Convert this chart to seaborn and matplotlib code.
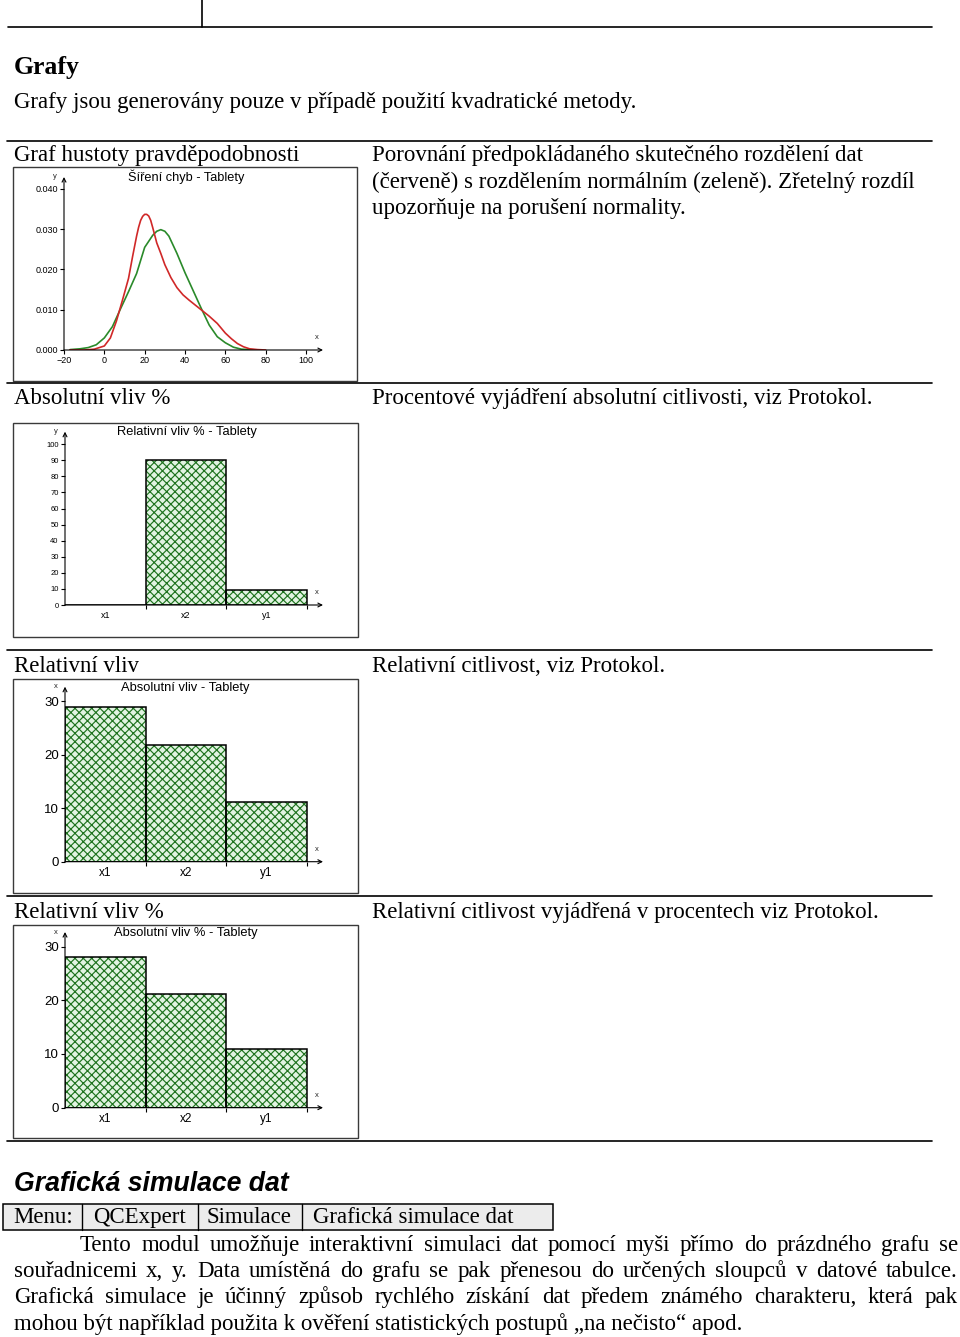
import numpy as np
import pandas as pd
import matplotlib
matplotlib.use("Agg")
import matplotlib.pyplot as plt
import seaborn as sns
from matplotlib.transforms import Affine2D
from matplotlib.lines import Line2D
from matplotlib.patches import Rectangle
from matplotlib.ticker import FixedLocator, FixedFormatter, NullFormatter, FormatStrFormatter

W, H = 960, 1337

# ---------------- data ----------------
red_x = [-17, -10, -5, 0, 3, 6, 9, 12, 14, 16, 17, 18, 19, 20, 21, 22, 23, 24, 26, 28, 30, 33, 36, 39, 42, 45, 48, 52, 56, 60, 63, 66, 69, 72, 76, 80]
red_y = [0.0000, 0.0000, 0.0002, 0.0010, 0.0030, 0.0072, 0.0124, 0.0178, 0.0232, 0.0283, 0.0305, 0.0322, 0.0332, 0.0337, 0.0337, 0.0333, 0.0322, 0.0304, 0.0266, 0.0240, 0.0212, 0.0180, 0.0155, 0.0137, 0.0124, 0.0112, 0.0100, 0.0084, 0.0066, 0.0042, 0.0028, 0.0016, 0.0008, 0.0003, 0.0001, 0.0000]
green_x = [-17, -12, -8, -4, 0, 4, 8, 12, 16, 20, 24, 26, 28, 30, 32, 36, 40, 44, 48, 52, 56, 60, 64, 68, 72, 76]
green_y = [0.0001, 0.0003, 0.0006, 0.0013, 0.0030, 0.0058, 0.0102, 0.0145, 0.0190, 0.0255, 0.0285, 0.0295, 0.0299, 0.0295, 0.0283, 0.0240, 0.0192, 0.0148, 0.0104, 0.0062, 0.0033, 0.0018, 0.0007, 0.0002, 0.0001, 0.0000]
dens_xticks = [-20, 0, 20, 40, 60, 80, 100]
dens_yticks = [0.000, 0.010, 0.020, 0.030, 0.040]

bar_cats = ["x1", "x2", "y1"]
rel_pct_vals = [0.0, 90.0, 9.5]
abs_vals = [28.9, 21.8, 11.1]
abs_pct_vals = [28.1, 21.2, 11.0]
rel_pct_yticks = [0, 10, 20, 30, 40, 50, 60, 70, 80, 90, 100]
abs_yticks = [0, 10, 20, 30]

chart_titles = ["Šíření chyb - Tablety", "Relativní vliv % - Tablety",
                "Absolutní vliv - Tablety", "Absolutní vliv % - Tablety"]

row_left = ["Graf hustoty pravděpodobnosti", "Absolutní vliv %", "Relativní vliv", "Relativní vliv %"]
row_right = [["Porovnání předpokládaného skutečného rozdělení dat",
              "(červeně) s rozdělením normálním (zeleně). Zřetelný rozdíl",
              "upozorňuje na porušení normality."],
             ["Procentové vyjádření absolutní citlivosti, viz Protokol."],
             ["Relativní citlivost, viz Protokol."],
             ["Relativní citlivost vyjádřená v procentech viz Protokol."]]

menu_items = ["Menu:", "QCExpert", "Simulace", "Grafická simulace dat"]
para_lines = ["Tento modul umožňuje interaktivní simulaci dat pomocí myši přímo do prázdného grafu se",
              "souřadnicemi x, y. Data umístěná do grafu se pak přenesou do určených sloupců v datové tabulce.",
              "Grafická simulace je účinný způsob rychlého získání dat předem známého charakteru, která pak",
              "mohou být například použita k ověření statistických postupů „na nečisto“ apod."]

# ---------------- setup ----------------
sns.set_theme(style="white")
SERIF = ["Liberation Serif", "DejaVu Serif"]
SANS = ["Liberation Sans", "DejaVu Sans"]
plt.rcParams["font.family"] = SANS
plt.rcParams["hatch.linewidth"] = 0.85
BODY = 16.5

fig = plt.figure(figsize=(W / 100, H / 100), dpi=100)
fig.patch.set_facecolor("white")
PX = Affine2D().scale(1 / W, -1 / H).translate(0, 1) + fig.transFigure
renderer = fig.canvas.get_renderer()


def hline(x0, x1, y, lw=1.1, color="black"):
    fig.add_artist(Line2D([x0, x1], [y, y], transform=PX, color=color, lw=lw))


def vline(x, y0, y1, lw=1.1, color="black"):
    fig.add_artist(Line2D([x, x], [y0, y1], transform=PX, color=color, lw=lw))


def txt(x, y, s, size=BODY, family=SERIF, va="baseline", **kw):
    return fig.text(x, y, s, transform=PX, fontsize=size, family=family, va=va, color="black", **kw)


def justify(line, x0, x1, y, size=BODY):
    words = line.split(" ")
    ts = [txt(0, y, w, size) for w in words]
    widths = [t.get_window_extent(renderer).width for t in ts]
    gap = (x1 - x0 - sum(widths)) / (len(words) - 1)
    x = x0
    for t, w in zip(ts, widths):
        t.set_x(x)
        x += w + gap


def ax_px(l, t, r, b):
    a = fig.add_axes([l / W, 1 - b / H, (r - l) / W, (b - t) / H])
    a.set_facecolor("none")
    return a


def frame(l, t, r, b):
    fig.add_artist(Rectangle((l, t), r - l, b - t, transform=PX, fill=False,
                             edgecolor="#3a3a3a", lw=1.0))


def style_axes(ax, xlim, ylim, ylab, labelsize):
    ax.set_xlim(*xlim)
    ax.set_ylim(*ylim)
    for s in ax.spines.values():
        s.set_visible(False)
    ax.grid(False)
    ax.set_xlabel("")
    ax.set_ylabel("")
    ap = dict(arrowstyle="->", lw=0.8, color="black", shrinkA=0, shrinkB=0, mutation_scale=7)
    ax.annotate("", xy=(1, 0), xytext=(0, 0), xycoords="axes fraction",
                textcoords="axes fraction", arrowprops=ap, annotation_clip=False)
    ax.annotate("", xy=(0, 1), xytext=(0, 0), xycoords="axes fraction",
                textcoords="axes fraction", arrowprops=ap, annotation_clip=False)
    ax.tick_params(which="both", bottom=True, left=True, direction="out", length=3,
                   width=0.8, color="black", pad=1.5, labelsize=labelsize, labelcolor="black")
    ax.text(-0.035, 1.0, ylab, transform=ax.transAxes, fontsize=5.5, ha="center", va="center")
    ax.text(0.975, 0.05, "x", transform=ax.transAxes, fontsize=5.5, ha="center", va="bottom")


# ---------------- page lines & texts ----------------
hline(8, 932, 27, lw=1.2)
vline(202, 0, 27, lw=1.2)
txt(14, 74, "Grafy", size=18.5, weight="bold")
txt(14, 108, "Grafy jsou generovány pouze v případě použití kvadratické metody.")

sep_y = [141, 383, 650, 896, 1141]
for y in sep_y:
    hline(7, 932, y, lw=1.2)

row_y = [161, 404, 672, 918]
for y, left, right in zip(row_y, row_left, row_right):
    txt(14, y, left)
    for i, line in enumerate(right):
        txt(372, y + i * 26.7, line)

# ---------------- chart frames ----------------
frame(13, 167, 357, 381)
frame(13, 423, 358, 637)
frame(13, 679, 358, 893)
frame(13, 925, 358, 1138)

# ---------------- density chart ----------------
ax = ax_px(64, 177, 323, 350)
sns.lineplot(x=green_x, y=green_y, ax=ax, color="#2a8a2a", lw=1.2)
sns.lineplot(x=red_x, y=red_y, ax=ax, color="#d02828", lw=1.2)
style_axes(ax, (-20, -20 + 259 / (242 / 120)), (0, 173 / 4025), "y", 6.5)
ax.set_xticks(dens_xticks)
ax.set_yticks(dens_yticks)
ax.yaxis.set_major_formatter(FormatStrFormatter("%.3f"))
txt(186, 177, chart_titles[0], size=9.2, family=SANS, va="center", ha="center")


# ---------------- bar charts ----------------
def bar_chart(rect, vals, yticks, ytop, ylab, ysize, xsize, title, tpos):
    a = ax_px(*rect)
    sns.barplot(x=bar_cats, y=vals, ax=a, width=1.0, color="#e2f4e2", saturation=1,
                edgecolor="#1f731f", linewidth=0, hatch="xxxx", errorbar=None)
    sns.barplot(x=bar_cats, y=vals, ax=a, width=1.0, fill=False, color="black",
                linewidth=1.1, errorbar=None)
    style_axes(a, (-0.5, 2.70), (0, ytop), ylab, ysize)
    a.xaxis.set_major_locator(FixedLocator([0.5, 1.5, 2.5]))
    a.xaxis.set_major_formatter(NullFormatter())
    a.xaxis.set_minor_locator(FixedLocator([0, 1, 2]))
    a.xaxis.set_minor_formatter(FixedFormatter(bar_cats))
    a.tick_params(axis="x", which="minor", length=0, labelsize=xsize, pad=4)
    a.set_yticks(yticks)
    a.set_yticklabels([str(v) for v in yticks])
    txt(tpos[0], tpos[1], title, size=9.3, family=SANS, va="center", ha="center")
    return a


bar_chart((65, 431.7, 323, 605), rel_pct_vals, rel_pct_yticks, 107.8, "y", 5.5, 6.5,
          chart_titles[1], (187, 432))
bar_chart((65, 686.7, 323, 861.7), abs_vals, abs_yticks, 32.7, "x", 9.5, 8.5,
          chart_titles[2], (185, 688))
bar_chart((65, 932, 323, 1107.7), abs_pct_vals, abs_yticks, 32.7, "x", 9.5, 8.5,
          chart_titles[3], (186, 933))

# ---------------- bottom section ----------------
txt(14, 1191, "Grafická simulace dat", size=19.2, family=SANS, weight="bold", style="italic")
fig.add_artist(Rectangle((3, 1204), 550, 26, transform=PX, facecolor="#ececec",
                         edgecolor="black", lw=1.1))
cell_x = [13, 93, 207, 313]
for x in [82, 198, 302]:
    vline(x, 1204, 1230, lw=1.0)
for x, s in zip(cell_x, menu_items):
    txt(x, 1223, s)

para_y = [1251, 1277, 1303, 1330]
justify(para_lines[0], 80, 958, para_y[0])
justify(para_lines[1], 14, 958, para_y[1])
justify(para_lines[2], 14, 958, para_y[2])
txt(14, para_y[3], para_lines[3])

fig.savefig("out.png", dpi=100, facecolor="white")
